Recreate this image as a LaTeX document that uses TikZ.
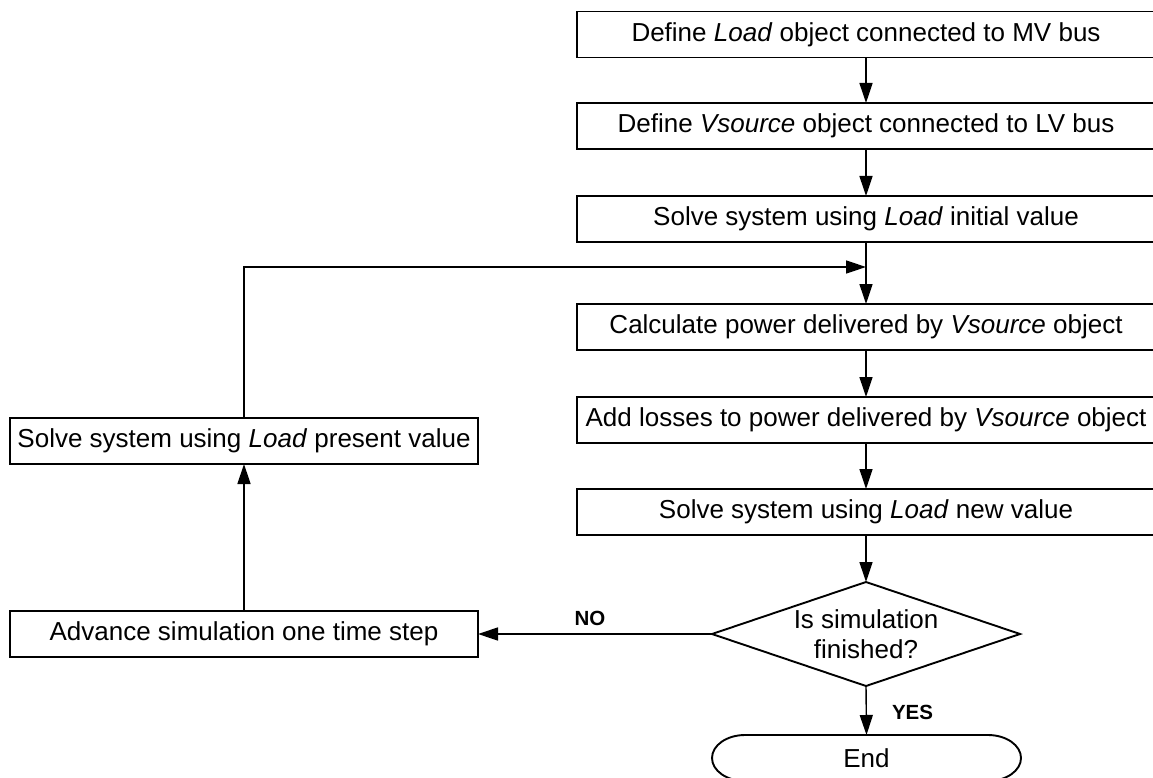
\documentclass[tikz,border=0pt]{standalone}
\usepackage{fontspec}
\setmainfont{Liberation Sans}
\usetikzlibrary{arrows.meta}
\tikzset{
  stepbox/.style={draw, line width=1.9pt, minimum height=46pt, inner sep=0pt, outer sep=0pt,
    font=\fontsize{26}{30}\selectfont},
  rbox/.style={stepbox, minimum width=578pt},
  lbox/.style={stepbox, minimum width=468pt},
  shapeonly/.style={draw=none, inner sep=0pt, outer sep=0pt, align=center,
    font=\fontsize{26}{30}\selectfont},
  outline/.style={line width=1.9pt, line join=miter},
  conn/.style={line width=1.4pt, -{Triangle[length=20pt,width=13pt]}},
  lab/.style={font=\fontsize{20.5}{24}\selectfont\bfseries, inner sep=0pt},
}
\begin{document}
\begin{tikzpicture}[x=1pt,y=1pt]
\useasboundingbox (0,0) rectangle (1153,-778);
\clip (0,0) rectangle (1153,-778);
% right column
\node[rbox] (b1) at (866,-34.5) {Define \textit{Load} object connected to MV bus};
\node[rbox] (b2) at (866,-126) {Define \textit{Vsource} object connected to LV bus};
\node[rbox] (b3) at (866,-219) {Solve system using \textit{Load} initial value};
\node[rbox] (b4) at (866,-327) {Calculate power delivered by \textit{Vsource} object};
\node[rbox] (b5) at (866,-420) {Add losses to power delivered by \textit{Vsource} object};
\node[rbox] (b6) at (866,-512) {Solve system using \textit{Load} new value};
% decision
\node[shapeonly, minimum width=308pt, minimum height=104pt] (dec) at (866,-634) {Is simulation\\finished?};
\draw[outline] (dec.north) -- (dec.east) -- (dec.south) -- (dec.west) -- cycle;
% end terminal
\node[shapeonly, minimum width=309pt, minimum height=46pt] (end) at (866.5,-758) {End};
\draw[outline] ([xshift=33pt]end.north west) -- ([xshift=-33pt]end.north east)
  arc[start angle=90, end angle=-90, x radius=33pt, y radius=23pt]
  -- ([xshift=33pt]end.south west)
  arc[start angle=270, end angle=90, x radius=33pt, y radius=23pt] -- cycle;
% left column
\node[lbox] (present) at (244,-441) {Solve system using \textit{Load} present value};
\node[lbox] (advance) at (244,-634) {Advance simulation one time step};
\coordinate (join) at (866,-267);
% connectors
\draw[conn] (b1.south) -- (b2.north);
\draw[conn] (b2.south) -- (b3.north);
\draw[conn] (b3.south) -- (b4.north);
\draw[conn] (b4.south) -- (b5.north);
\draw[conn] (b5.south) -- (b6.north);
\draw[conn] (b6.south) -- (dec.north);
\draw[conn] (dec.south) -- (end.north);
\draw[conn] (dec.west) -- (advance.east);
\draw[conn] (advance.north) -- (present.south);
\draw[conn] (present.north) |- (join);
% labels
\node[lab] (no) at (590,-618) {NO};
\node[lab] (yes) at (912.5,-712) {YES};
\end{tikzpicture}
\end{document}
